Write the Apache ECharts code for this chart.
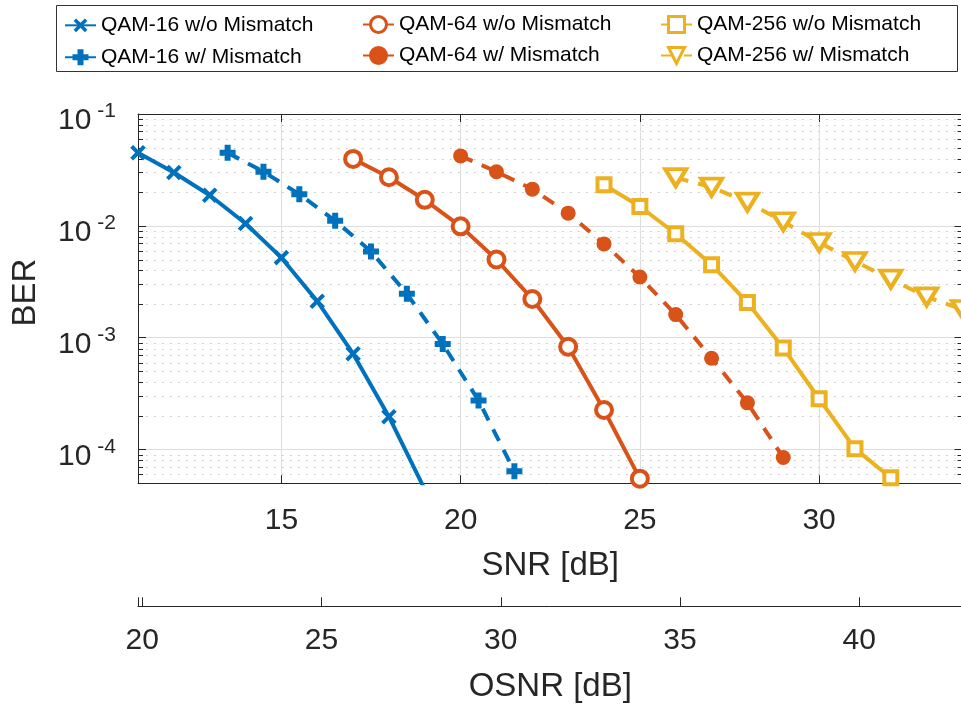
<!DOCTYPE html>
<html>
<head>
<meta charset="utf-8">
<script src="https://cdn.jsdelivr.net/npm/echarts@6/dist/echarts.min.js"></script>
<style>
html,body{margin:0;padding:0;background:#fff;}
#c{width:961px;height:704px;}
</style>
</head>
<body>
<div id="c"></div>
<script>
// ---- data ----
const seriesNames = ['QAM-16 w/o Mismatch','QAM-16 w/ Mismatch','QAM-64 w/o Mismatch','QAM-64 w/ Mismatch','QAM-256 w/o Mismatch','QAM-256 w/ Mismatch'];
const snr16wo = [11,12,13,14,15,16,17,18,19];
const ber16wo = [4.5e-2,3.0e-2,1.88e-2,1.05e-2,5.2e-3,2.12e-3,7.2e-4,1.97e-4,4.4e-5];
const snr16w = [13.5,14.5,15.5,16.5,17.5,18.5,19.5,20.5,21.5];
const ber16w = [4.5e-2,3.05e-2,1.92e-2,1.11e-2,5.9e-3,2.47e-3,8.8e-4,2.75e-4,6.4e-5];
const snr64wo = [17,18,19,20,21,22,23,24,25];
const ber64wo = [3.97e-2,2.72e-2,1.71e-2,9.9e-3,5.0e-3,2.22e-3,8.3e-4,2.26e-4,5.5e-5];
const snr64w = [20,21,22,23,24,25,26,27,28,29];
const ber64w = [4.22e-2,3.05e-2,2.13e-2,1.3e-2,6.9e-3,3.49e-3,1.61e-3,6.56e-4,2.62e-4,8.5e-5];
const snr256wo = [24,25,26,27,28,29,30,31,32];
const ber256wo = [2.33e-2,1.49e-2,8.5e-3,4.5e-3,2.07e-3,8.1e-4,2.85e-4,1.02e-4,5.6e-5];
const snr256w = [26,27,28,29,30,31,32,33,34];
const ber256w = [2.7e-2,2.22e-2,1.63e-2,1.09e-2,7.1e-3,4.81e-3,3.34e-3,2.32e-3,1.79e-3];
// axis ranges
const snrRange = [11, 34];
const osnrRange = [19.88, 42.88];
const berRange = [5e-5, 0.1];
// minor (log) grid positions
const minorTicks = [6e-5,7e-5,8e-5,9e-5,2e-4,3e-4,4e-4,5e-4,6e-4,7e-4,8e-4,9e-4,
  2e-3,3e-3,4e-3,5e-3,6e-3,7e-3,8e-3,9e-3,2e-2,3e-2,4e-2,5e-2,6e-2,7e-2,8e-2,9e-2];

// ---- styling ----
const FONT = 'Liberation Sans, Arial, Helvetica, sans-serif';
const AX = '#262626';
const BLUE = '#0072BD', ORANGE = '#D95319', YELLOW = '#EDB120';
const PLUS = 'path://M-3,-8H3V-3H8V3H3V8H-3V3H-8V-3H-3Z';
const CROSS = 'path://M-2,-9H2V-2H9V2H2V9H-2V2H-9V-2H-2Z';
const DASH = [13, 10];

function zip(xs, ys){ return xs.map((x,i)=>[x, ys[i]]); }

function lineSeries(name, xs, ys, color, dashed, symbol, size, extra){
  return Object.assign({
    name: name, type: 'line', xAxisIndex: 0, yAxisIndex: 0,
    data: zip(xs, ys), color: color,
    lineStyle: {width: 4, color: color, type: dashed ? DASH : 'solid'},
    symbol: symbol, symbolSize: size, showAllSymbol: true,
    itemStyle: {color: color, borderColor: color, borderWidth: 0},
    clip: true, z: 3
  }, extra || {});
}
function hollow(color){ return {itemStyle: {color: '#fff', borderColor: color, borderWidth: 4}}; }

const chart = echarts.init(document.getElementById('c'), null, {renderer: 'canvas'});

const xCommon = {
  type: 'value', gridIndex: 0, splitNumber: 5,
  axisLine: {show: true, onZero: false, lineStyle: {color: AX, width: 1}},
  axisTick: {show: true, inside: true, length: 8, lineStyle: {color: AX, width: 1}},
  minorTick: {show: false}
};
const fmt5 = v => (Math.abs(v/5 - Math.round(v/5)) < 1e-6 ? String(Math.round(v)) : '');

const option = {
  animation: false,
  backgroundColor: '#fff',
  textStyle: {fontFamily: FONT},
  grid: {left: 138, top: 114, width: 824.5, height: 369.3, containLabel: false, outerBoundsMode: 'none'},
  graphic: [{
    type: 'rect', shape: {x: 56.5, y: 5.5, width: 901, height: 66},
    style: {fill: '#fff', stroke: '#333', lineWidth: 1}, z: 0, silent: true
  }],
  legend: [0,1,2].map((k, i) => Object.assign({
    data: [seriesNames[2*k], seriesNames[2*k+1]],
    orient: 'vertical', left: [64, 362, 660][i], top: 14, padding: 0,
    itemWidth: 31, itemHeight: 20, itemGap: 10,
    textStyle: {fontSize: 21, color: '#000', fontFamily: FONT},
    selectedMode: false, z: 5
  }, i > 0 ? {itemStyle: {borderWidth: 3}} : {})),
  xAxis: [
    Object.assign({}, xCommon, {
      min: snrRange[0], max: snrRange[1], position: 'bottom',
      axisLabel: {show: true, formatter: fmt5, fontSize: 30, color: AX, margin: 22, fontFamily: FONT, showMinLabel: false, showMaxLabel: false},
      splitLine: {show: true, lineStyle: {color: '#dedede', width: 1}},
      name: 'SNR [dB]', nameLocation: 'middle', nameGap: 66,
      nameTextStyle: {fontSize: 33, color: AX, fontFamily: FONT}
    }),
    Object.assign({}, xCommon, {
      min: snrRange[0], max: snrRange[1], position: 'top',
      axisLabel: {show: false}, splitLine: {show: false}
    }),
    Object.assign({}, xCommon, {
      min: osnrRange[0], max: osnrRange[1], position: 'bottom', offset: 123,
      axisTick: {show: true, inside: true, length: 9, lineStyle: {color: AX, width: 1}},
      axisLabel: {show: true, formatter: fmt5, fontSize: 30, color: AX, margin: 19, fontFamily: FONT},
      splitLine: {show: false},
      name: 'OSNR [dB]', nameLocation: 'middle', nameGap: 64,
      nameTextStyle: {fontSize: 33, color: AX, fontFamily: FONT}
    })
  ],
  yAxis: [
    {
      type: 'log', logBase: 10, min: berRange[0], max: berRange[1], position: 'left', gridIndex: 0,
      axisLine: {show: true, onZero: false, lineStyle: {color: AX, width: 1}},
      axisTick: {show: true, inside: true, length: 8, lineStyle: {color: AX, width: 1}},
      axisLabel: {
        show: true, margin: 22, color: AX, fontFamily: FONT,
        formatter: function(v){
          const e = Math.log10(v);
          if (Math.abs(e - Math.round(e)) > 1e-6) return '';
          return '{h| }{b|10}{s|' + Math.round(e) + '}';
        },
        rich: {
          h: {fontSize: 1, lineHeight: 44, color: 'rgba(0,0,0,0)'},
          b: {fontSize: 30, color: AX, fontFamily: FONT, verticalAlign: 'bottom', lineHeight: 30},
          s: {fontSize: 21, color: AX, fontFamily: FONT, verticalAlign: 'top', lineHeight: 21, padding: [9, 0, 0, 6]}
        }
      },
      splitLine: {show: true, lineStyle: {color: '#dedede', width: 1}},
      name: 'BER', nameLocation: 'middle', nameGap: 96, nameRotate: 90,
      nameTextStyle: {fontSize: 33, color: AX, fontFamily: FONT, padding: [0, 0, 0, 12]}
    },
    {
      type: 'log', logBase: 10, min: berRange[0], max: berRange[1], position: 'right', gridIndex: 0,
      axisLine: {show: true, onZero: false, lineStyle: {color: AX, width: 1}},
      axisTick: {show: true, inside: true, length: 8, lineStyle: {color: AX, width: 1}},
      axisLabel: {show: false}, splitLine: {show: false}
    }
  ],
  series: [
    {
      type: 'custom', xAxisIndex: 0, yAxisIndex: 0, silent: true, z: 1,
      data: minorTicks.map(v => [snrRange[0], v]),
      renderItem: function(params, api){
        const cs = params.coordSys;
        const y = Math.round(api.coord([api.value(0), api.value(1)])[1]) + 0.5;
        return {type: 'group', children: [
          {type: 'line', shape: {x1: cs.x, y1: y, x2: cs.x + cs.width, y2: y},
           style: {stroke: '#c4c4c4', lineWidth: 1, lineDash: [1.5, 6.5]}},
          {type: 'line', shape: {x1: cs.x, y1: y, x2: cs.x + 5, y2: y},
           style: {stroke: AX, lineWidth: 1}},
          {type: 'line', shape: {x1: cs.x + cs.width - 5, y1: y, x2: cs.x + cs.width, y2: y},
           style: {stroke: AX, lineWidth: 1}}
        ]};
      }
    },
    lineSeries(seriesNames[0], snr16wo, ber16wo, BLUE, false, CROSS, 18, {symbolRotate: 45}),
    lineSeries(seriesNames[1], snr16w, ber16w, BLUE, true, PLUS, 16),
    lineSeries(seriesNames[2], snr64wo, ber64wo, ORANGE, false, 'circle', 16, hollow(ORANGE)),
    lineSeries(seriesNames[3], snr64w, ber64w, ORANGE, true, 'circle', 15),
    lineSeries(seriesNames[4], snr256wo, ber256wo, YELLOW, false, 'rect', 13, hollow(YELLOW)),
    lineSeries(seriesNames[5], snr256w, ber256w, YELLOW, true, 'triangle', [21, 17], Object.assign({symbolRotate: 180}, hollow(YELLOW)))
  ]
};
chart.setOption(option);
</script>
</body>
</html>
